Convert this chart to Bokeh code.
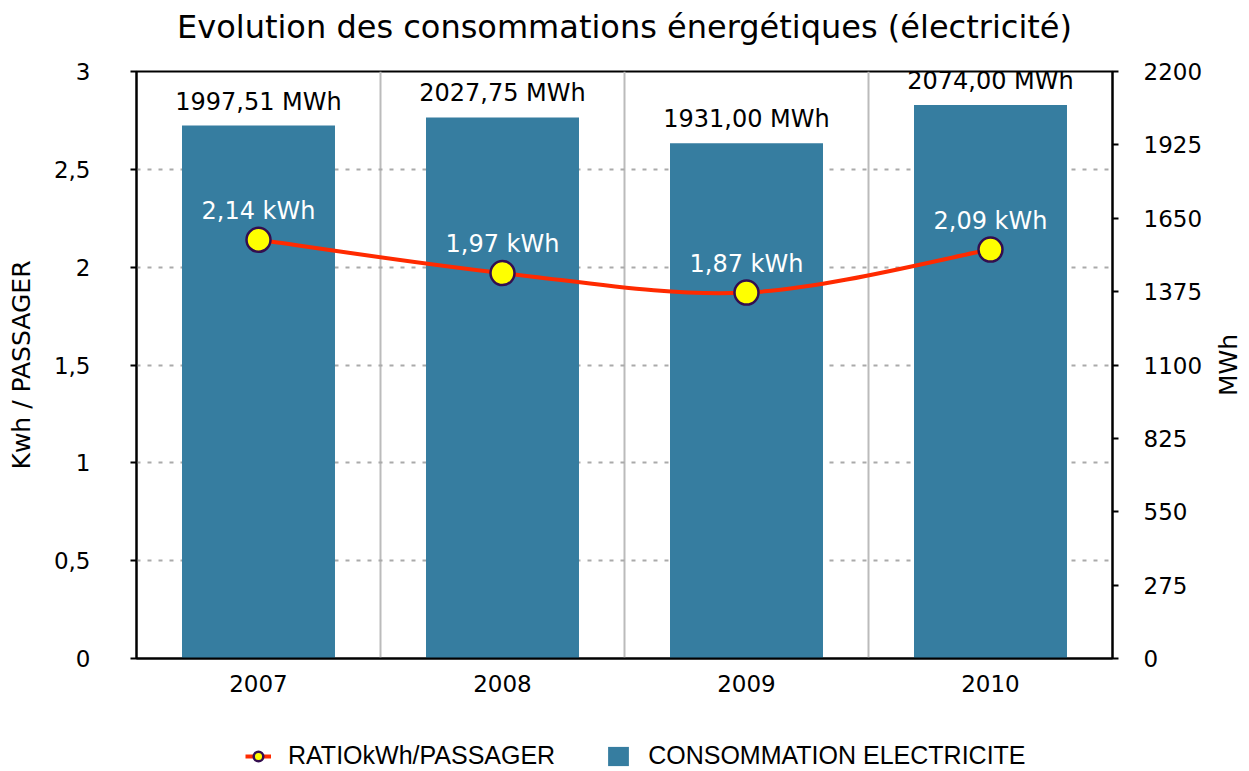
import math
from bokeh.plotting import figure
from bokeh.layouts import column, row
from bokeh.models import Range1d, LinearAxis, FixedTicker, ColumnDataSource, Legend, LegendItem, Label
from bokeh.core.properties import value
from bokeh.embed import file_html
from bokeh.resources import INLINE

# ---------------- data ----------------
title_text = "Evolution des consommations énergétiques (électricité)"
years = ["2007", "2008", "2009", "2010"]
consommation_mwh = [1997.51, 2027.75, 1931.00, 2074.00]
ratio_kwh = [2.14, 1.97, 1.87, 2.09]
left_ticks = [0, 0.5, 1, 1.5, 2, 2.5, 3]
right_ticks = [0, 275, 550, 825, 1100, 1375, 1650, 1925, 2200]
left_label = "Kwh / PASSAGER"
right_label = "MWh"
legend_labels = ["RATIOkWh/PASSAGER", "CONSOMMATION ELECTRICITE"]

FONT = "DejaVu Sans"
BAR_COLOR = "#367da0"
LINE_COLOR = "#ff2a00"
MARK_FILL = "#ffff00"
MARK_LINE = "#330e4f"

xs = list(range(len(years)))

p = figure(width=1210, height=705,
           x_range=Range1d(-0.5, len(years) - 0.5), y_range=Range1d(0, 3),
           output_backend="svg", toolbar_location=None,
           min_border_left=136, min_border_right=98,
           min_border_top=71, min_border_bottom=47)
p.extra_y_ranges = {"mwh": Range1d(0, 2200)}
p.background_fill_color = "white"
p.border_fill_color = "white"
p.outline_line_color = "black"
p.outline_line_width = 2

# title
p.title.text = title_text
p.title.align = "center"
p.title.text_font = FONT
p.title.text_font_size = "32px"
p.title.text_font_style = "normal"
p.title.text_color = "black"
try:
    p.title.padding = dict(left=0, right=0, top=0, bottom=21)
except Exception:
    try:
        p.title.padding = (0, 0, 21, 0)
    except Exception:
        pass

# grids
p.xgrid.ticker = FixedTicker(ticks=[i + 0.5 for i in xs[:-1]])
p.xgrid.grid_line_color = "#bbbbbb"
p.xgrid.grid_line_width = 2
p.ygrid.ticker = FixedTicker(ticks=left_ticks[1:-1])
p.ygrid.grid_line_color = "#aaaaaa"
p.ygrid.grid_line_width = 2
p.ygrid.grid_line_dash = "4 7"

# x axis
xa = p.xaxis[0]
xa.ticker = FixedTicker(ticks=xs)
xa.major_label_overrides = {i: y for i, y in zip(xs, years)}
xa.major_tick_out = 0
xa.major_tick_in = 0
xa.minor_tick_out = 0
xa.minor_tick_in = 0
xa.axis_line_width = 2
xa.axis_line_color = "black"
xa.major_label_text_font = FONT
xa.major_label_text_font_size = "23px"
xa.major_label_text_color = "black"
xa.major_label_standoff = 16

# left axis
ya = p.yaxis[0]
ya.ticker = FixedTicker(ticks=left_ticks)
ya.major_label_overrides = {t: f"{t:g}".replace(".", ",") for t in left_ticks}
ya.major_tick_out = 6
ya.major_tick_in = 0
ya.minor_tick_out = 0
ya.minor_tick_in = 0
ya.major_tick_line_width = 2
ya.axis_line_width = 2
ya.axis_line_color = "black"
ya.major_label_text_font = FONT
ya.major_label_text_font_size = "23px"
ya.major_label_text_color = "black"
ya.major_label_standoff = 40
ya.axis_label = left_label
ya.axis_label_text_font = FONT
ya.axis_label_text_font_size = "25px"
ya.axis_label_text_font_style = "normal"
ya.axis_label_text_color = "black"
ya.axis_label_standoff = 15

# right axis (its title is drawn in the narrow strip to the right)
ra = LinearAxis(y_range_name="mwh", ticker=FixedTicker(ticks=right_ticks))
ra.major_tick_out = 6
ra.major_tick_in = 0
ra.minor_tick_out = 0
ra.minor_tick_in = 0
ra.major_tick_line_width = 2
ra.axis_line_width = 2
ra.axis_line_color = "black"
ra.major_label_text_font = FONT
ra.major_label_text_font_size = "23px"
ra.major_label_text_color = "black"
ra.major_label_standoff = 25
p.add_layout(ra, "right")

# bars
bar_src = ColumnDataSource(dict(
    x=xs, mwh=consommation_mwh,
    lab=[f"{v:.2f}".replace(".", ",") + " MWh" for v in consommation_mwh]))
p.vbar(x="x", top="mwh", width=0.627, source=bar_src, y_range_name="mwh",
       fill_color=BAR_COLOR, line_color=None)
p.text(x="x", y="mwh", text="lab", source=bar_src, y_range_name="mwh",
       text_align="center", text_baseline="middle", y_offset=-24,
       text_font=value(FONT), text_font_size="24px", text_color="black")

# smooth line (Catmull-Rom -> cubic Bezier through the data points)
n = len(xs)
x0, y0, x1, y1, cx0, cy0, cx1, cy1 = [], [], [], [], [], [], [], []
for i in range(n - 1):
    pm = max(i - 1, 0)
    pp = min(i + 2, n - 1)
    x0.append(xs[i]); y0.append(ratio_kwh[i])
    x1.append(xs[i + 1]); y1.append(ratio_kwh[i + 1])
    cx0.append(xs[i] + (xs[i + 1] - xs[pm]) / 6)
    cy0.append(ratio_kwh[i] + (ratio_kwh[i + 1] - ratio_kwh[pm]) / 6)
    cx1.append(xs[i + 1] - (xs[pp] - xs[i]) / 6)
    cy1.append(ratio_kwh[i + 1] - (ratio_kwh[pp] - ratio_kwh[i]) / 6)
p.bezier(x0=x0, y0=y0, x1=x1, y1=y1, cx0=cx0, cy0=cy0, cx1=cx1, cy1=cy1,
         line_color=LINE_COLOR, line_width=4)

pt_src = ColumnDataSource(dict(
    x=xs, r=ratio_kwh,
    lab=[f"{v:.2f}".replace(".", ",") + " kWh" for v in ratio_kwh]))
p.scatter(x="x", y="r", source=pt_src, size=24, marker="circle",
          fill_color=MARK_FILL, line_color=MARK_LINE, line_width=2.5)
p.text(x="x", y="r", text="lab", source=pt_src,
       text_align="center", text_baseline="middle", y_offset=-29,
       text_font=value(FONT), text_font_size="24px", text_color="white")

# ---------------- right axis title strip ----------------
rf = figure(width=39, height=705, x_range=Range1d(0, 39), y_range=Range1d(0, 1),
            x_axis_type=None, y_axis_type=None,
            output_backend="svg", toolbar_location=None, min_border=0)
rf.outline_line_color = None
rf.background_fill_color = "white"
rf.border_fill_color = "white"
rf.add_layout(Label(x=18, y=0.5, text=right_label, angle=math.pi / 2,
                    text_align="center", text_baseline="middle",
                    text_font=FONT, text_font_size="25px", text_color="black"))

# ---------------- legend strip ----------------
# proxy renderers use the real series but lie outside this strip's ranges,
# so only their legend glyphs are drawn
lf = figure(width=1249, height=66, x_range=Range1d(-101, -100), y_range=Range1d(-101, -100),
            x_axis_type=None, y_axis_type=None,
            output_backend="svg", toolbar_location=None, min_border=0)
lf.outline_line_color = None
lf.background_fill_color = "white"
lf.border_fill_color = "white"
lf_line = lf.line(x=xs, y=ratio_kwh, line_color=LINE_COLOR, line_width=4)
lf_pts = lf.scatter(x=xs, y=ratio_kwh, marker="circle", size=16,
                    fill_color=MARK_FILL, line_color=MARK_LINE, line_width=2.5)
lf_bar = lf.vbar(x=xs, top=consommation_mwh, width=0.5, fill_color=BAR_COLOR, line_color=None)

legend = Legend(items=[LegendItem(label=legend_labels[0], renderers=[lf_line, lf_pts]),
                       LegendItem(label=legend_labels[1], renderers=[lf_bar])],
                orientation="horizontal", location=(245, 1),
                padding=0, margin=0, spacing=50, label_standoff=17,
                glyph_width=26, glyph_height=24,
                label_text_font="Liberation Sans", label_text_font_size="25px",
                label_text_color="black",
                border_line_color=None, background_fill_alpha=0)
lf.add_layout(legend, "center")

layout = column(row(p, rf, spacing=0), lf, spacing=0)
open("out.html", "w").write(file_html(layout, INLINE))
